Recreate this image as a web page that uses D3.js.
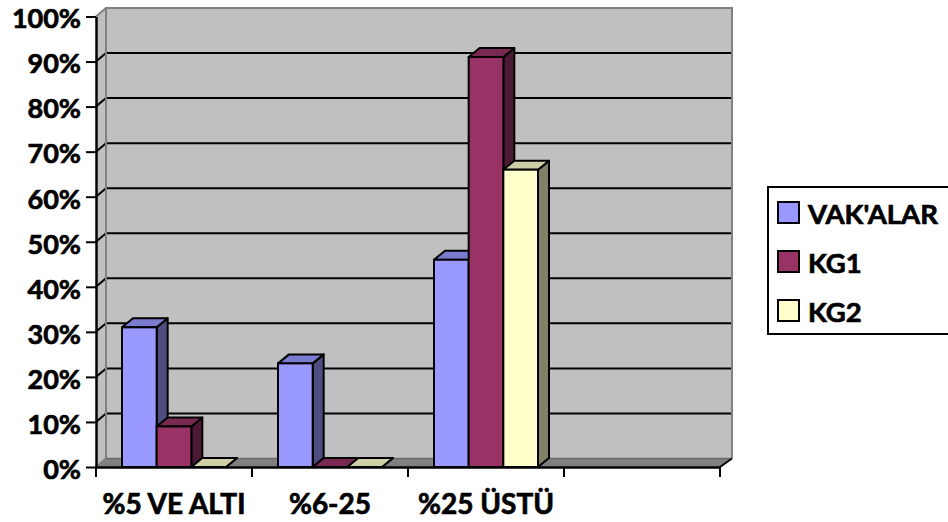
<!DOCTYPE html>
<html>
<head>
<meta charset="utf-8">
<script src="https://cdn.jsdelivr.net/npm/d3@7/dist/d3.min.js"></script>
<style>
  html, body { margin: 0; padding: 0; background: #ffffff; }
  svg { display: block; }
  text { font-family: Lato, "Open Sans", sans-serif; font-weight: bold; fill: #000; stroke: #000; stroke-width: 0.7px; }
</style>
</head>
<body>
<svg id="chart" width="948" height="522"></svg>
<script>
// Categories (the fourth slot is an empty category on the axis)
const categories = ["%5 VE ALTI", "%6-25", "%25 ÜSTÜ", ""];
const seriesNames = ["VAK'ALAR", "KG1", "KG2"];
// Shares per category, as fractions
const vakalar = [0.31, 0.23, 0.46];
const kg1 = [0.09, 0.00, 0.91];
const kg2 = [0.00, 0.00, 0.66];
const yTicks = [0, 0.1, 0.2, 0.3, 0.4, 0.5, 0.6, 0.7, 0.8, 0.9, 1.0];

const seriesValues = [vakalar, kg1, kg2];
// front, top and side shades for each series
const faceColors = [
  { front: "#9999ff", top: "#7b7bd0", side: "#4d4d80" },
  { front: "#993366", top: "#7a2952", side: "#4d1a33" },
  { front: "#ffffcc", top: "#cfcfa6", side: "#808066" }
];

const svg = d3.select("#chart");

// plot frame (front plane) and oblique depth of the walls
const plotL = 96, plotR = 720, plotB = 467, plotT = 16.5;
const DX = 10, DY = 8.5;      // wall depth
const BDX = 11, BDY = 9;      // bar depth
const wallR = plotR + 12;

const x = d3.scaleBand().domain(categories).range([plotL, plotR]).paddingInner(0).paddingOuter(0);
const y = d3.scaleLinear().domain([0, 1]).range([plotB, plotT]);

const pts = arr => arr.map(p => p.join(",")).join(" ");
const g = svg.append("g");

// side wall
g.append("polygon")
  .attr("points", pts([[plotL, plotB], [plotL, plotT], [plotL + DX, plotT - DY], [plotL + DX, plotB - DY]]))
  .attr("fill", "#c0c0c0");

// back wall
g.append("rect")
  .attr("x", plotL + DX).attr("y", plotT - DY)
  .attr("width", wallR - (plotL + DX)).attr("height", plotB - plotT)
  .attr("fill", "#c0c0c0");

// floor
g.append("polygon")
  .attr("points", pts([[plotL, plotB], [plotL + DX, plotB - DY], [wallR, plotB - DY], [plotR, plotB]]))
  .attr("fill", "#808080");

// gridlines on back wall and across the side wall
const inner = yTicks.filter(t => t > 0 && t < 1);
g.selectAll("line.grid").data(inner).enter().append("line")
  .attr("class", "grid")
  .attr("x1", plotL + DX).attr("x2", wallR)
  .attr("y1", d => y(d) - DY).attr("y2", d => y(d) - DY)
  .attr("stroke", "#000").attr("stroke-width", 2);
g.selectAll("line.sgrid").data(inner).enter().append("line")
  .attr("class", "sgrid")
  .attr("x1", plotL).attr("y1", d => y(d))
  .attr("x2", plotL + DX).attr("y2", d => y(d) - DY)
  .attr("stroke", "#000").attr("stroke-width", 2);

// wall outlines
g.append("path")
  .attr("d", `M${plotL},${plotT} L${plotL + DX},${plotT - DY} L${wallR},${plotT - DY} L${wallR},${plotB - DY} M${plotL + DX},${plotT - DY} L${plotL + DX},${plotB - DY} L${plotL},${plotB}`)
  .attr("fill", "none").attr("stroke", "#808080").attr("stroke-width", 2);
g.append("path")
  .attr("d", `M${plotL + DX},${plotB - DY} L${wallR},${plotB - DY}`)
  .attr("fill", "none").attr("stroke", "#6a6a6a").attr("stroke-width", 1.5);

// bars
const step = x.bandwidth();
const bw = step / 4.5;
categories.forEach((cat, i) => {
  seriesValues.forEach((vals, j) => {
    const v = vals[i];
    if (v === undefined || v === null) return;
    const x0 = x(cat) + 0.75 * bw + j * bw;
    const x1 = x0 + bw;
    const y0 = y(0);
    const yt = y(v);
    const c = faceColors[j];
    const bar = g.append("g");
    // side face
    bar.append("polygon")
      .attr("points", pts([[x1, y0], [x1, yt], [x1 + BDX, yt - BDY], [x1 + BDX, y0 - BDY]]))
      .attr("fill", c.side).attr("stroke", "#000").attr("stroke-width", 2).attr("stroke-linejoin", "round");
    // top face
    bar.append("polygon")
      .attr("points", pts([[x0, yt], [x0 + BDX, yt - BDY], [x1 + BDX, yt - BDY], [x1, yt]]))
      .attr("fill", c.top).attr("stroke", "#000").attr("stroke-width", 2).attr("stroke-linejoin", "round");
    // front face
    if (y0 - yt > 0) {
      bar.append("rect")
        .attr("x", x0).attr("y", yt).attr("width", bw).attr("height", y0 - yt)
        .attr("fill", c.front).attr("stroke", "#000").attr("stroke-width", 2);
    }
  });
});

// y axis
const yAxis = d3.axisLeft(y)
  .tickValues(yTicks)
  .tickFormat(d3.format(".0%"))
  .tickSize(10)
  .tickSizeOuter(0)
  .tickPadding(5);
const ya = svg.append("g").attr("transform", `translate(${plotL},0)`).call(yAxis);
ya.select(".domain").attr("stroke", "#000").attr("stroke-width", 2.5);
ya.selectAll(".tick line").attr("stroke", "#000").attr("stroke-width", 2);
ya.selectAll(".tick text")
  .attr("font-family", "Lato, sans-serif").attr("font-weight", "bold")
  .attr("font-size", 27).attr("dy", "0.42em").attr("fill", "#000");

// x axis: labels at band centres, ticks on band boundaries
const xAxis = d3.axisBottom(x).tickSize(0).tickSizeOuter(0).tickPadding(27);
const xa = svg.append("g").attr("transform", `translate(0,${plotB})`).call(xAxis);
xa.select(".domain").attr("stroke", "#000").attr("stroke-width", 2.5);
xa.selectAll(".tick text")
  .attr("font-family", "Lato, sans-serif").attr("font-weight", "bold")
  .attr("font-size", 28).attr("fill", "#000");
const bounds = categories.map(c => x(c)).concat([plotR]);
xa.selectAll("line.btick").data(bounds).enter().append("line")
  .attr("class", "btick")
  .attr("x1", d => d).attr("x2", d => d)
  .attr("y1", 0).attr("y2", 10)
  .attr("stroke", "#000").attr("stroke-width", 2);
// floor edge at the right end
svg.append("line")
  .attr("x1", plotR).attr("y1", plotB).attr("x2", wallR).attr("y2", plotB - DY)
  .attr("stroke", "#000").attr("stroke-width", 2);

// legend
const lg = svg.append("g");
lg.append("rect")
  .attr("x", 768).attr("y", 187).attr("width", 200).attr("height", 147)
  .attr("fill", "#fff").attr("stroke", "#000").attr("stroke-width", 2);
seriesNames.forEach((name, j) => {
  const yy = 202 + j * 49;
  lg.append("rect")
    .attr("x", 778).attr("y", yy).attr("width", 21).attr("height", 21)
    .attr("fill", faceColors[j].front).attr("stroke", "#000").attr("stroke-width", 2);
  lg.append("text")
    .attr("x", 808).attr("y", yy + 22)
    .attr("font-size", 27.5)
    .text(name);
});
</script>
</body>
</html>
